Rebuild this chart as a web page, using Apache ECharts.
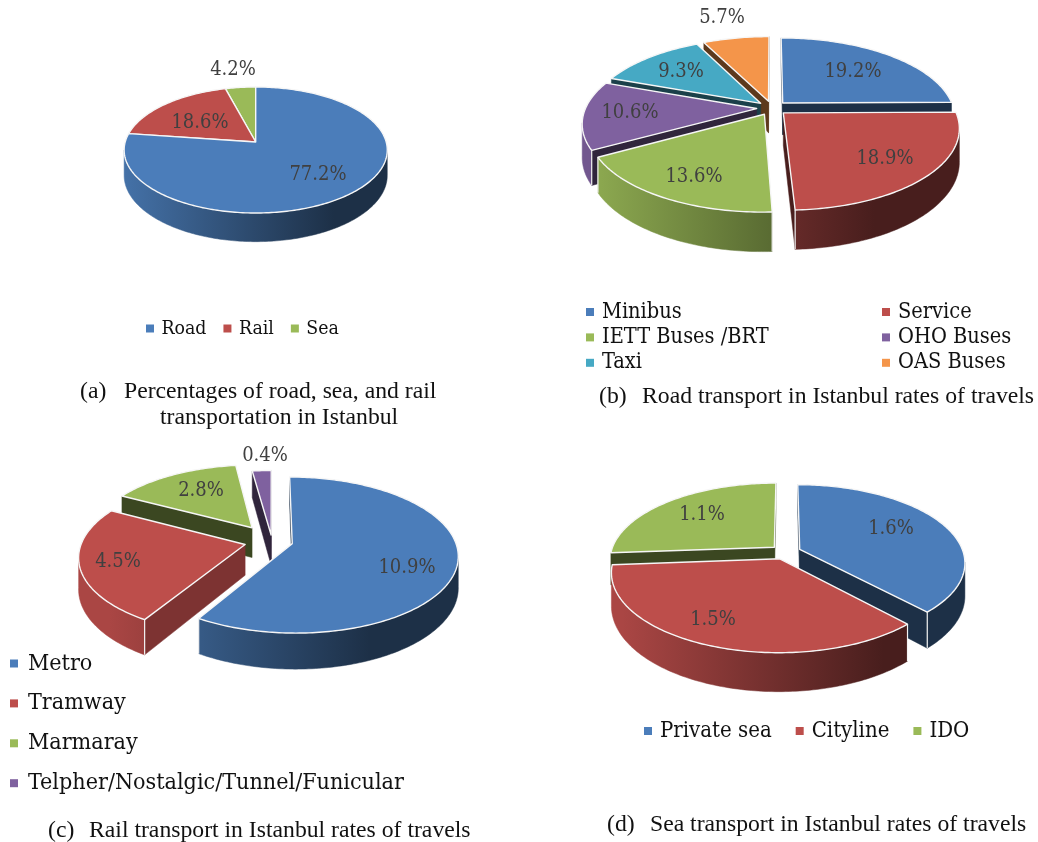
<!DOCTYPE html>
<html><head><meta charset="utf-8">
<style>html,body{margin:0;padding:0;background:#fff}#c{width:1038px;height:842px}</style>
<script src="https://cdn.jsdelivr.net/npm/echarts@6/dist/echarts.min.js"></script>
</head><body><div id="c"></div>
<script>
// ---- data ----
const modeNames = ['Road', 'Rail', 'Sea'];
const modeValues = [77.2, 18.6, 4.2];
const roadNames = ['Minibus', 'Service', 'IETT Buses /BRT', 'OHO Buses', 'Taxi', 'OAS Buses'];
const roadValues = [19.2, 18.9, 13.6, 10.6, 9.3, 5.7];
const railNames = ['Metro', 'Tramway', 'Marmaray', 'Telpher/Nostalgic/Tunnel/Funicular'];
const railValues = [10.9, 4.5, 2.8, 0.4];
const seaNames = ['Private sea', 'Cityline', 'IDO'];
const seaValues = [1.6, 1.5, 1.1];

// ---- style / layout ----
const palette = ['#4b7dba', '#bd4e4b', '#9aba58', '#7f619f', '#46a9c4', '#f4954a'];
const serif = '"DejaVu Serif Condensed","DejaVu Serif",serif';
const capFont = '"Liberation Serif",serif';
const pies = [
  {names: modeNames, values: modeValues, cx: 255.7, cy: 142, rx: 130.5, ry: 62, k: 0.127, d0: 25,
   explode: [0, 0, 0], labels: [[318, 175], [200, 123], [233, 70]], cutShade: [.38, .38, .38]},
  {names: roadNames, values: roadValues, cx: 772, cy: 108, rx: 171, ry: 78.2, k: 0.176, d0: 32,
   explode: [.09, .09, .09, .09, .09, .09], labels: [[853, 72], [885, 159], [694, 177], [630, 113], [681, 72], [722, 18]],
   cutShade: [.38, .38, .38, .38, .38, .38]},
  {names: railNames, values: railValues, cx: 272, cy: 541, rx: 163, ry: 75.6, k: 0.146, d0: 30.6,
   explode: [.128, .17, .22, .08], labels: [[407, 568], [118, 562], [201, 491], [265, 456]],
   cutShade: [.38, .66, .38, .38]},
  {names: seaNames, values: seaValues, cx: 785.5, cy: 552, rx: 163.5, ry: 76.1, k: 0.164, d0: 32,
   explode: [.094, .094, .094], labels: [[891, 529], [713, 620], [702, 515]], cutShade: [.38, .38, .38]}
];

function shade(hex, f) {
  const n = parseInt(hex.slice(1), 16);
  const c = [n >> 16 & 255, n >> 8 & 255, n & 255].map(v => Math.round(v * f));
  return 'rgb(' + c.join(',') + ')';
}

function sliceRenderer(pie, i, color, t0, t1) {
  return function (params, api) {
    const value = api.value(0);
    const tm = (t0 + t1) / 2, e = pie.explode[i];
    const ou = e * Math.sin(tm), ov = -e * Math.cos(tm);
    const proj = (u, v) => {
      const w = 1 - pie.k * v;
      return [pie.cx + pie.rx * u / w, pie.cy + pie.ry * v / w, pie.d0 / w];
    };
    const rim = t => proj(Math.sin(t) + ou, -Math.cos(t) + ov);
    const down = p => [p[0], p[1] + p[2]];
    const xy = p => [p[0], p[1]];
    const apex = proj(ou, ov);
    const step = Math.PI / 180;
    const arc = (a, b) => {
      const pts = [];
      const n = Math.max(2, Math.ceil((b - a) / step));
      for (let j = 0; j <= n; j++) pts.push(rim(a + (b - a) * j / n));
      return pts;
    };
    const children = [];
    const A = rim(t0), B = rim(t1), mid = rim(tm);
    const c = [(apex[0] + mid[0]) / 2, (apex[1] + mid[1]) / 2];
    // cut walls facing the viewer
    const cuts = [A, B].map(P => ({P, vis: (function () {
      const dx = P[0] - apex[0];
      if (Math.abs(dx) < 0.01) return false;
      const yAt = apex[1] + (P[1] - apex[1]) * (c[0] - apex[0]) / dx;
      return c[1] < yAt;
    })()})).sort((p, q) => (p.P[1] - q.P[1]));
    // outer wall: only the part of the rim that faces the viewer
    const lim = Math.acos(-pie.k);
    const a = Math.max(t0, lim), b = Math.min(t1, 2 * Math.PI - lim);
    const grad = {type: 'linear', global: true, x: pie.cx - pie.rx, y: 0, x2: pie.cx + pie.rx, y2: 0,
      colorStops: [{offset: 0, color: shade(color, .9)}, {offset: .8, color: shade(color, .38)}, {offset: 1, color: shade(color, .38)}]};
    if (b > a) {
      const top = arc(a, b);
      const pts = top.map(xy).concat(top.slice().reverse().map(down));
      children.push({type: 'polygon', shape: {points: pts}, style: {fill: grad, stroke: grad, lineWidth: .5}});
    }
    const cs = shade(color, pie.cutShade[i]);
    cuts.forEach(o => {
      if (!o.vis) return;
      children.push({type: 'polygon', shape: {points: [xy(apex), xy(o.P), down(o.P), down(apex)]},
        style: {fill: cs, stroke: cs, lineWidth: .5}});
    });
    // white corner edges
    [[t0, A], [t1, B]].forEach(o => {
      if (e > 0 && -Math.cos(o[0]) > pie.k) {
        children.push({type: 'line', shape: {x1: o[1][0], y1: o[1][1], x2: o[1][0], y2: o[1][1] + o[1][2]},
          style: {stroke: '#f4f4f4', lineWidth: 1.2}});
      }
    });
    // top face
    const face = [xy(apex)].concat(arc(t0, t1).map(xy));
    children.push({type: 'polygon', shape: {points: face},
      style: {fill: color, stroke: '#f6f6f6', lineWidth: 1.4, lineJoin: 'round'}});
    // value label
    const lab = pie.labels[i];
    children.push({type: 'text', style: {x: lab[0], y: lab[1], text: value.toFixed(1) + '%', fill: '#404040',
      fontFamily: serif, fontSize: 20, align: 'center', verticalAlign: 'middle'}});
    return {type: 'group', children};
  };
}

const series = [];
pies.forEach((pie, pi) => {
  const total = pie.values.reduce((s, v) => s + v, 0);
  let acc = 0;
  const items = pie.values.map((v, i) => {
    const t0 = acc / total * 2 * Math.PI; acc += v;
    const t1 = acc / total * 2 * Math.PI;
    return {v, i, t0, t1, depth: -Math.cos((t0 + t1) / 2)};
  });
  items.slice().sort((p, q) => p.depth - q.depth).forEach((it, rank) => {
    const color = palette[it.i];
    series.push({
      type: 'custom', coordinateSystem: 'none', name: pie.names[it.i], z: 2 + rank,
      silent: true, animation: false, clip: false,
      itemStyle: {color},
      data: [[it.v]],
      renderItem: sliceRenderer(pie, it.i, color, it.t0, it.t1)
    });
  });
});

const legendBase = {icon: 'rect', itemWidth: 8, itemHeight: 8, selectedMode: false, padding: 0};
const lg = (size, pad, extra) => Object.assign({}, legendBase,
  {textStyle: {fontFamily: serif, fontSize: size, color: '#111', padding: [0, 0, 0, pad]}}, extra);
const legend = [
  lg(19.3, 2.5, {data: modeNames, left: 146, top: 319, itemGap: 17}),
  lg(21.6, 3, {data: ['Minibus', 'IETT Buses /BRT', 'Taxi'], orient: 'vertical', left: 586, top: 301, itemGap: 3.4}),
  lg(21.6, 3, {data: ['Service', 'OHO Buses', 'OAS Buses'], orient: 'vertical', left: 882, top: 301, itemGap: 3.4}),
  lg(23.1, 5, {data: railNames, orient: 'vertical', left: 10, top: 652, itemGap: 16.9}),
  lg(22, 3, {data: seaNames, left: 644, top: 720, itemGap: 24})
];

const captions = [
  ['(a)', 80, 391], ['Percentages of road, sea, and rail', 124, 391], ['transportation in Istanbul', 160, 417],
  ['(b)', 599, 396], ['Road transport in Istanbul rates of travels', 642, 396],
  ['(c)', 48, 830], ['Rail transport in Istanbul rates of travels', 89, 830],
  ['(d)', 607, 824], ['Sea transport in Istanbul rates of travels', 650, 824]
];
const graphic = captions.map(c => ({type: 'text', left: c[1], top: c[2] - 11,
  style: {text: c[0], fill: '#111', font: '23.7px ' + capFont}}));

const chart = echarts.init(document.getElementById('c'), null, {renderer: 'canvas'});
chart.setOption({backgroundColor: '#fff', animation: false, legend, graphic, series});
</script></body></html>
